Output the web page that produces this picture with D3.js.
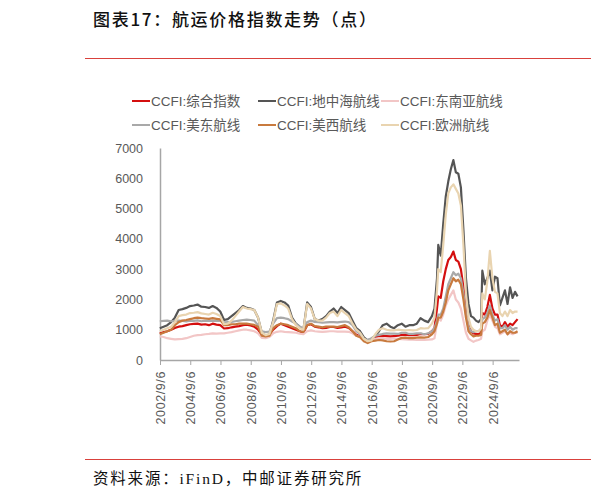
<!DOCTYPE html>
<html>
<head>
<meta charset="utf-8">
<script src="https://cdn.jsdelivr.net/npm/d3@7"></script>
<style>
  body { margin: 0; background: #fff; }
  svg { display: block; }
</style>
</head>
<body>
<script>
var dates = [
  "2002-09","2002-12","2003-03","2003-06","2003-09","2003-12","2004-03","2004-06","2004-09","2004-12",
  "2005-03","2005-06","2005-09","2005-12","2006-03","2006-06","2006-09","2006-12","2007-03","2007-06",
  "2007-09","2007-12","2008-03","2008-06","2008-09","2008-12","2009-03","2009-06","2009-09","2009-12",
  "2010-03","2010-06","2010-09","2010-12","2011-03","2011-06","2011-09","2011-12","2012-03","2012-06",
  "2012-09","2012-12","2013-03","2013-06","2013-09","2013-12","2014-03","2014-06","2014-09","2014-12",
  "2015-03","2015-06","2015-09","2015-12","2016-03","2016-06","2016-09","2016-12","2017-03","2017-06",
  "2017-09","2017-12","2018-03","2018-06","2018-09","2018-12","2019-03","2019-06","2019-09","2019-12",
  "2020-03","2020-06","2020-09","2020-11","2021-01","2021-02","2021-04","2021-06","2021-08","2021-10",
  "2021-12","2022-02","2022-04","2022-06","2022-08","2022-10","2022-12","2023-02","2023-04","2023-06",
  "2023-08","2023-10","2023-12","2024-01","2024-03","2024-05","2024-07","2024-09","2024-11","2025-01",
  "2025-03","2025-05","2025-07","2025-09","2025-11","2026-01","2026-03","2026-05"
];

var composite = [
  880,920,950,1000,1060,1100,1120,1150,1180,1190,
  1200,1170,1180,1150,1200,1170,1150,1040,1050,1080,
  1100,1120,1150,1170,1140,1100,1000,820,800,830,
  1000,1120,1200,1150,1100,1050,1000,950,900,1150,
  1180,1100,1080,1050,1060,1090,1090,1060,1080,1100,
  1060,950,830,780,680,620,660,730,780,800,
  790,780,790,800,830,840,820,820,830,860,
  850,860,950,1050,1700,2100,2050,2600,3000,3300,
  3400,3580,3300,3250,3000,2400,1600,1150,950,880,
  860,850,900,1550,1500,1750,2150,1700,1500,1500,
  1150,1100,1250,1100,1200,1150,1250,1350
];
var mediterranean = [
  1050,1100,1150,1250,1400,1650,1680,1720,1780,1800,
  1830,1760,1750,1720,1780,1720,1600,1320,1350,1450,
  1550,1650,1780,1720,1700,1650,1400,900,800,850,
  1300,1900,1950,1900,1800,1400,1200,1100,1000,1900,
  1750,1350,1300,1350,1450,1600,1700,1550,1750,1650,
  1550,1300,1050,950,750,650,700,800,950,1150,
  1200,1100,1050,1150,1200,1100,1150,1150,1200,1380,
  1300,1250,1450,1700,2700,3800,3450,4500,5400,5900,
  6300,6600,6200,6150,5700,4300,2700,1850,1450,1400,
  1300,1250,1350,2950,2500,2700,2950,2300,2750,2700,
  1800,2050,2300,1850,2400,2050,2250,2100
];
var southeastAsia = [
  780,760,720,700,680,690,700,720,760,800,
  820,830,850,860,880,870,880,880,900,920,
  950,980,1000,1000,980,950,880,730,720,760,
  880,930,950,930,920,910,900,870,850,950,
  980,950,940,930,940,950,950,940,940,940,
  930,880,800,760,650,610,640,700,720,720,
  700,700,710,700,690,680,670,670,660,660,
  660,670,680,720,1200,1350,1300,1500,1800,2000,
  2150,2300,2000,1900,1700,1300,900,700,650,600,
  640,660,700,950,1000,1300,1500,1300,1100,1050,
  850,900,950,850,900,850,900,900
];
var usEast = [
  1280,1290,1300,1280,1290,1300,1290,1270,1300,1290,
  1310,1280,1300,1290,1300,1290,1290,1240,1250,1260,
  1280,1300,1320,1330,1320,1300,1150,950,920,940,
  1200,1380,1400,1380,1350,1270,1200,1100,1050,1250,
  1300,1260,1250,1230,1240,1250,1250,1240,1260,1270,
  1250,1150,950,850,700,660,720,800,830,860,
  880,870,870,860,900,900,860,860,880,880,
  850,880,950,1050,1300,1500,1500,1700,2100,2500,
  2700,2900,2800,2850,2700,2200,1500,1100,950,920,
  950,950,1000,1350,1400,1550,1800,1500,1300,1350,
  1050,1050,1150,1000,1100,1000,1050,1050
];
var usWest = [
  850,900,950,1000,1150,1250,1300,1320,1350,1380,
  1400,1380,1370,1360,1380,1360,1340,1150,1150,1180,
  1180,1200,1200,1200,1180,1160,1100,800,780,800,
  1050,1150,1200,1180,1150,1100,1050,950,930,1150,
  1200,1120,1100,1080,1100,1100,1100,1090,1120,1150,
  1080,950,800,750,620,560,620,640,660,650,
  620,610,620,680,730,740,720,720,740,750,
  740,760,850,950,1200,1400,1400,1600,1900,2300,
  2500,2700,2600,2650,2500,2000,1400,950,850,780,
  800,800,830,1200,1250,1400,1650,1400,1150,1200,
  900,950,1000,850,950,900,900,950
];
var europe = [
  950,1000,1050,1100,1250,1450,1480,1500,1550,1560,
  1580,1540,1520,1500,1560,1520,1450,1180,1200,1300,
  1450,1600,1750,1700,1680,1650,1400,900,820,860,
  1250,1850,1870,1800,1700,1350,1150,1050,1000,1850,
  1700,1350,1300,1300,1400,1550,1600,1450,1650,1550,
  1450,1200,1000,900,700,620,650,850,1000,1050,
  1000,980,980,1000,990,980,990,980,990,1050,
  1040,1050,1200,1400,2300,3000,2900,3800,4800,5500,
  5700,5800,5650,5500,5100,3800,2200,1400,1100,1000,
  950,950,1050,2200,2000,2600,3600,2700,2250,2200,
  1550,1450,1600,1450,1650,1550,1600,1600
];

var seriesNames = ["CCFI:综合指数","CCFI:地中海航线","CCFI:东南亚航线","CCFI:美东航线","CCFI:美西航线","CCFI:欧洲航线"];
var seriesValues = [composite, mediterranean, southeastAsia, usEast, usWest, europe];
var colors = ["#d40f0f","#555555","#f2c6c6","#a9a9a9","#c87a3e","#e9d4b0"];
var yTicks = [0,1000,2000,3000,4000,5000,6000,7000];
var xTickDates = ["2002/9/6","2004/9/6","2006/9/6","2008/9/6","2010/9/6","2012/9/6","2014/9/6","2016/9/6","2018/9/6","2020/9/6","2022/9/6","2024/9/6"];

var W = 591, H = 500;
var svg = d3.select("body").append("svg").attr("width", W).attr("height", H);

var CJK = "'Noto Sans CJK SC', sans-serif";
var LAT = "'Liberation Sans', 'Noto Sans CJK SC', sans-serif";

// title + red rules
svg.append("text").attr("x", 93).attr("y", 26)
  .style("font-family", CJK).style("font-size", "17px").style("font-weight", 500)
  .style("letter-spacing", "1.7px").attr("fill", "#111")
  .text("图表17：航运价格指数走势（点）");
svg.append("line").attr("x1", 85).attr("x2", W).attr("y1", 58.5).attr("y2", 58.5)
  .attr("stroke", "#d9413c").attr("stroke-width", 1.2);
svg.append("line").attr("x1", 85).attr("x2", W).attr("y1", 459.5).attr("y2", 459.5)
  .attr("stroke", "#d9413c").attr("stroke-width", 1.2);
svg.append("text").attr("x", 93).attr("y", 484)
  .style("font-family", "'Liberation Serif', 'Noto Sans CJK SC', serif").style("font-size", "15.5px")
  .style("letter-spacing", "1.8px").attr("fill", "#111")
  .text("资料来源：iFinD，中邮证券研究所");

// scales
var parse = d3.timeParse("%Y-%m");
var parseTick = d3.timeParse("%Y/%m/%d");
var x = d3.scaleTime()
  .domain([parseTick("2002/9/6"), parseTick("2026/6/5")])
  .range([160, 519]);
var y = d3.scaleLinear().domain([0, 7000]).range([360, 148]);

// y axis
var gy = svg.append("g").attr("transform", "translate(160,0)")
  .call(d3.axisLeft(y).tickValues(yTicks).tickFormat(d3.format("d")).tickSize(0).tickPadding(17));
gy.select(".domain").attr("stroke", "#a6a6a6").attr("stroke-width", 1.5);
gy.selectAll("text").style("font-family", LAT).style("font-size", "12.5px").attr("fill", "#595959");

// x axis
var gx = svg.append("g").attr("transform", "translate(0,360)")
  .call(d3.axisBottom(x).tickValues(xTickDates.map(parseTick))
    .tickFormat(d3.timeFormat("%Y/%-m/%-d")).tickSizeInner(5).tickSizeOuter(0));
gx.select(".domain").attr("stroke", "#a6a6a6").attr("stroke-width", 1.5);
gx.selectAll(".tick line").attr("stroke", "#a6a6a6");
gx.selectAll("text")
  .style("font-family", LAT).style("font-size", "12.5px").style("letter-spacing", "0.6px").attr("fill", "#595959")
  .attr("text-anchor", "end").attr("transform", "rotate(-90)")
  .attr("x", -11).attr("y", 0).attr("dy", "0.35em");

// lines
var pts = dates.map(parse);
var line = d3.line().x(function(d) { return x(d[0]); }).y(function(d) { return y(d[1]); });
seriesValues.forEach(function(vals, i) {
  svg.append("path")
    .datum(pts.map(function(t, j) { return [t, vals[j]]; }))
    .attr("d", line).attr("fill", "none")
    .attr("stroke", colors[i]).attr("stroke-width", 2.2).attr("stroke-linejoin", "round");
});

// legend
var legX = [132, 258, 381], legY = [101, 125];
seriesNames.forEach(function(name, i) {
  var lx = legX[i % 3], ly = legY[Math.floor(i / 3)];
  svg.append("line").attr("x1", lx).attr("x2", lx + 18).attr("y1", ly).attr("y2", ly)
    .attr("stroke", colors[i]).attr("stroke-width", 2);
  svg.append("text").attr("x", lx + 19).attr("y", ly).attr("dy", "0.36em")
    .style("font-family", LAT).style("font-size", "13.5px").attr("fill", "#595959")
    .text(name);
});
</script>
</body>
</html>
